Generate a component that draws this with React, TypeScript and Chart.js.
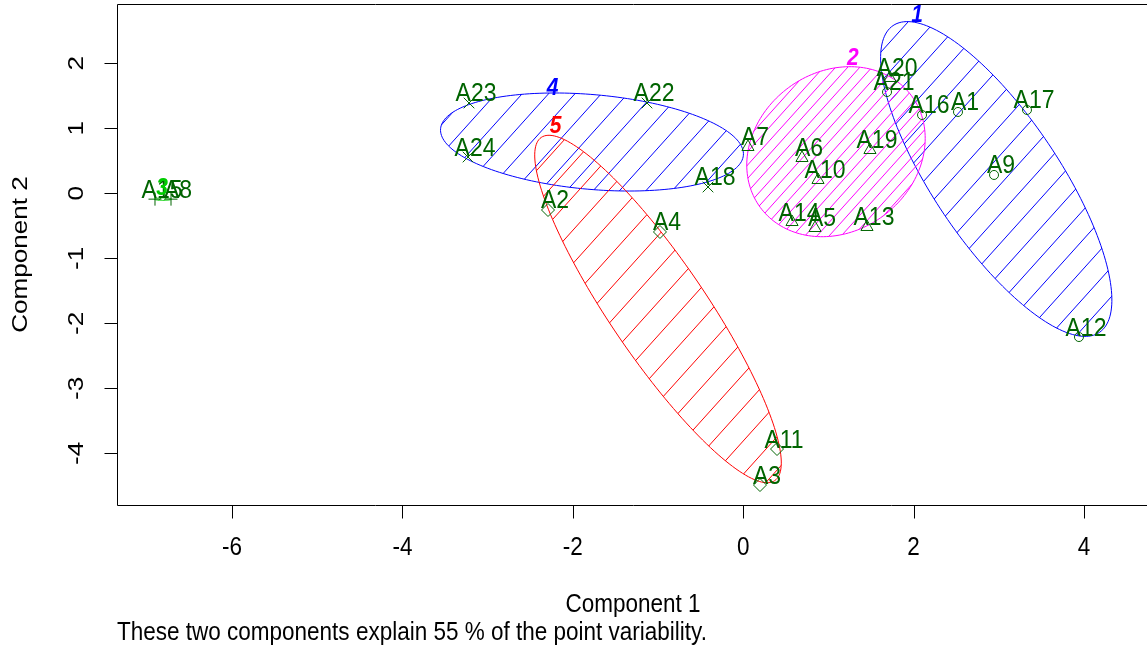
import React, { useEffect, useRef } from "react";
import { Chart, registerables } from "chart.js";

Chart.register(...registerables);

// ---------------- data ----------------
const pointNames = [
  "A1", "A2", "A3", "A4", "A5", "A6", "A7", "A8", "A9", "A10", "A11", "A12",
  "A13", "A14", "A15", "A16", "A17", "A18", "A19", "A20", "A21", "A22", "A23", "A24",
];
const pointX = [
  2.521, -2.291, 0.197, -0.977, 0.843, 0.69, 0.056, -6.716, 2.944, 0.878, 0.397, 3.941,
  1.453, 0.573, -6.904, 2.099, 3.331, -0.413, 1.488, 1.723, 1.688, -1.129, -3.218, -3.23,
];
const pointY = [
  1.251, -0.257, -4.488, -0.595, -0.534, 0.543, 0.712, -0.09, 0.282, 0.205, -3.934, -2.211,
  -0.518, -0.442, -0.09, 1.205, 1.282, 0.097, 0.666, 1.774, 1.558, 1.389, 1.389, 0.558,
];
const pointCluster = [
  1, 5, 5, 5, 2, 2, 2, 3, 1, 2, 5, 1,
  2, 2, 3, 1, 1, 4, 2, 2, 1, 4, 4, 4,
];

const clusterIds = [1, 2, 3, 4, 5];
// ellipse of each cluster: centre and two conjugate half-axis vectors (data units)
const ellipseCX = [2.97, 1.089, -6.81, -1.775, -1.0];
const ellipseCY = [0.22, 0.64, -0.09, 0.789, -1.78];
const ellipseUX = [1.211, 0.888, 0.1, 1.777, 1.37];
const ellipseUY = [-2.36, 0.858, 0, -0.204, -2.64];
const ellipseVX = [-0.613, 0.555, 0, -0.0485, -0.466];
const ellipseVY = [-0.542, -0.987, -0.02, -0.726, -0.416];
const clusterLabelX = [2.04, 1.288, -6.82, -2.238, -2.203];
const clusterLabelY = [2.743, 2.082, 0.081, 1.62, 1.028];

const xTicks = [-6, -4, -2, 0, 2, 4];
const yTicks = [-4, -3, -2, -1, 0, 1, 2];
const xTitle = "Component 1";
const yTitle = "Component 2";
const caption = "These two components explain 55 % of the point variability.";

// ---------------- style ----------------
const STYLE = {
  clusterColors: ["#0000FF", "#FF00FF", "#00CD00", "#0000FF", "#FF0000"],
  shapes: ["circle", "triangle", "cross", "crossRot", "rectRot"],
  radii: [4.5, 7, 6.5, 7.5, 6.5],
  hatchSpacing: [19.7, 9, 4, 19.6, 22.3],
  hatchAngleDeg: 48,
  pointColor: "#006400",
  font: '"Liberation Sans", Arial, sans-serif',
  axisStretch: 1.16,
  labelStretch: 1.1,
};

function drawText(
  ctx: CanvasRenderingContext2D,
  text: string,
  x: number,
  y: number,
  font: string,
  color: string,
  align: CanvasTextAlign,
  stretch: number,
  rotated = false
) {
  ctx.save();
  ctx.translate(x, y);
  ctx.scale(1, stretch);
  if (rotated) ctx.rotate(-Math.PI / 2);
  ctx.font = font;
  ctx.fillStyle = color;
  ctx.textAlign = align;
  ctx.textBaseline = "middle";
  ctx.fillText(text, 0, 0);
  ctx.restore();
}

const clusPlugin = {
  id: "clusplot",
  beforeDatasetsDraw(chart: any) {
    const ctx: CanvasRenderingContext2D = chart.ctx;
    const xs = chart.scales.x;
    const ys = chart.scales.y;
    const a = (STYLE.hatchAngleDeg * Math.PI) / 180;
    const d = [Math.cos(a), -Math.sin(a)];
    const n = [Math.sin(a), Math.cos(a)];
    clusterIds.forEach((_, i) => {
      const pts: number[][] = [];
      const N = 180;
      for (let k = 0; k <= N; k++) {
        const t = (2 * Math.PI * k) / N;
        const dx = ellipseCX[i] + Math.cos(t) * ellipseUX[i] + Math.sin(t) * ellipseVX[i];
        const dy = ellipseCY[i] + Math.cos(t) * ellipseUY[i] + Math.sin(t) * ellipseVY[i];
        pts.push([xs.getPixelForValue(dx), ys.getPixelForValue(dy)]);
      }
      const path = () => {
        ctx.beginPath();
        pts.forEach((p, k) => (k === 0 ? ctx.moveTo(p[0], p[1]) : ctx.lineTo(p[0], p[1])));
        ctx.closePath();
      };
      const color = STYLE.clusterColors[i];
      // hatching
      ctx.save();
      path();
      ctx.clip();
      let minS = Infinity;
      let maxS = -Infinity;
      pts.forEach((p) => {
        const s = p[0] * n[0] + p[1] * n[1];
        minS = Math.min(minS, s);
        maxS = Math.max(maxS, s);
      });
      const sp = STYLE.hatchSpacing[i];
      ctx.strokeStyle = color;
      ctx.lineWidth = 1;
      ctx.beginPath();
      for (let s = Math.floor(minS / sp) * sp; s <= maxS; s += sp) {
        const p0 = [n[0] * s, n[1] * s];
        ctx.moveTo(p0[0] - d[0] * 3000, p0[1] - d[1] * 3000);
        ctx.lineTo(p0[0] + d[0] * 3000, p0[1] + d[1] * 3000);
      }
      ctx.stroke();
      ctx.restore();
      // outline
      ctx.save();
      ctx.strokeStyle = color;
      ctx.lineWidth = 1;
      path();
      ctx.stroke();
      ctx.restore();
    });
  },
  afterDatasetsDraw(chart: any) {
    const ctx: CanvasRenderingContext2D = chart.ctx;
    const xs = chart.scales.x;
    const ys = chart.scales.y;
    const ca = chart.chartArea;
    const f = STYLE.font;

    // point labels
    pointNames.forEach((name, j) => {
      const px = xs.getPixelForValue(pointX[j]);
      const py = ys.getPixelForValue(pointY[j]);
      drawText(ctx, name, px + 7, py - 8.5, `23px ${f}`, STYLE.pointColor, "center", STYLE.labelStretch);
    });
    // cluster labels
    clusterIds.forEach((id, i) => {
      drawText(
        ctx,
        String(id),
        xs.getPixelForValue(clusterLabelX[i]),
        ys.getPixelForValue(clusterLabelY[i]),
        `italic bold 21px ${f}`,
        STYLE.clusterColors[i],
        "center",
        STYLE.axisStretch
      );
    });

    // box
    ctx.save();
    ctx.strokeStyle = "#000";
    ctx.lineWidth = 1;
    const L = Math.round(ca.left) + 0.5;
    const T = Math.round(ca.top) + 0.5;
    const B = Math.round(ca.bottom) + 0.5;
    const R = Math.round(ca.right) + 0.5;
    ctx.beginPath();
    ctx.moveTo(R, T);
    ctx.lineTo(L, T);
    ctx.lineTo(L, B);
    ctx.lineTo(R, B);
    ctx.lineTo(R, T);
    ctx.stroke();
    // ticks
    ctx.beginPath();
    xTicks.forEach((v) => {
      const px = Math.round(xs.getPixelForValue(v)) + 0.5;
      ctx.moveTo(px, B);
      ctx.lineTo(px, B + 13);
    });
    yTicks.forEach((v) => {
      const py = Math.round(ys.getPixelForValue(v)) + 0.5;
      ctx.moveTo(L, py);
      ctx.lineTo(L - 13, py);
    });
    ctx.stroke();
    ctx.restore();

    const af = `22.5px ${f}`;
    const st = STYLE.axisStretch;
    // tick labels
    xTicks.forEach((v) => {
      drawText(ctx, String(v), xs.getPixelForValue(v), ca.bottom + 43, af, "#000", "center", st);
    });
    yTicks.forEach((v) => {
      drawText(ctx, String(v), ca.left - 40, ys.getPixelForValue(v), af, "#000", "center", st, true);
    });
    // titles
    drawText(ctx, xTitle, (ca.left + ca.right) / 2, ca.bottom + 100, af, "#000", "center", st);
    drawText(ctx, yTitle, ca.left - 96, (ca.top + ca.bottom) / 2, af, "#000", "center", st, true);
    drawText(ctx, caption, ca.left, ca.bottom + 128, af, "#000", "left", st);
  },
};

export default function App() {
  const ref = useRef<HTMLCanvasElement>(null);
  useEffect(() => {
    const canvas = ref.current;
    if (!canvas) return;
    const datasets = clusterIds.map((c, i) => ({
      label: `Cluster ${c}`,
      data: pointX
        .map((x, j) => ({ x, y: pointY[j], c: pointCluster[j] }))
        .filter((p) => p.c === c)
        .map((p) => ({ x: p.x, y: p.y })),
      pointStyle: STYLE.shapes[i] as any,
      pointRadius: STYLE.radii[i],
      pointHoverRadius: STYLE.radii[i],
      borderColor: STYLE.pointColor,
      backgroundColor: "rgba(0,0,0,0)",
      pointBorderWidth: 1,
      borderWidth: 1,
      showLine: false,
    }));
    const chart = new Chart(canvas, {
      type: "scatter",
      data: { datasets },
      options: {
        responsive: false,
        animation: false,
        devicePixelRatio: 1,
        layout: { padding: { left: 117, top: 4, right: 1, bottom: 145 }, autoPadding: false },
        plugins: { legend: { display: false }, tooltip: { enabled: false } },
        events: [],
        scales: {
          x: { type: "linear", min: -7.35, max: 4.763, display: false },
          y: { type: "linear", min: -4.795, max: 2.912, display: false },
        },
      },
      plugins: [clusPlugin],
    });
    return () => chart.destroy();
  }, []);
  return (
    <div
      style={{
        position: "absolute",
        left: 0,
        top: 0,
        width: 1147,
        height: 650,
        overflow: "hidden",
        background: "#fff",
      }}
    >
      <canvas ref={ref} width={1150} height={650} style={{ display: "block", width: 1150, height: 650 }} />
    </div>
  );
}
